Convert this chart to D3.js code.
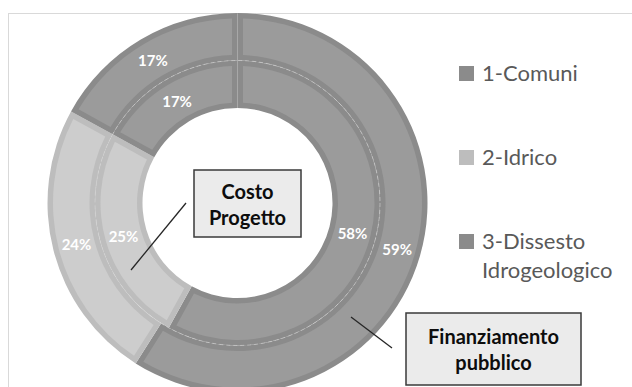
<!DOCTYPE html>
<html>
<head>
<meta charset="utf-8">
<script src="https://cdn.jsdelivr.net/npm/d3@7"></script>
<style>
  html, body { margin: 0; padding: 0; background: #ffffff; }
  svg { display: block; }
</style>
</head>
<body>
<svg id="chart" width="632" height="387"></svg>
<script>
// Shares by category for each ring (percent)
const categories = ["1-Comuni", "2-Idrico", "3-Dissesto Idrogeologico"];
const costoProgetto = [58, 25, 17];          // inner ring
const finanziamentoPubblico = [59, 24, 17];  // outer ring
const ringNames = ["Costo Progetto", "Finanziamento pubblico"];

const W = 632, H = 387;
const cx = 237.5, cy = 203;
const rHole = 95, rMid = 142.5, rOuter = 190;
const inset = 5.5;

const fillColor = d3.scaleOrdinal().domain(categories).range(["#9b9b9b", "#cdcdcd", "#9b9b9b"]);
const edgeColor = d3.scaleOrdinal().domain(categories).range(["#8b8b8b", "#bdbdbd", "#8b8b8b"]);

const svg = d3.select("#chart");
const font = "Lato, 'Open Sans', 'DejaVu Sans', sans-serif";

// chart area frame
svg.append("rect")
  .attr("x", 8.5).attr("y", 13.5)
  .attr("width", W).attr("height", H)
  .attr("fill", "none").attr("stroke", "#d9d9d9").attr("stroke-width", 1);

const pie = d3.pie().sort(null).value(d => d.value).startAngle(0).endAngle(2 * Math.PI);

const rings = [
  { name: ringNames[0], values: costoProgetto, r0: rHole, r1: rMid },
  { name: ringNames[1], values: finanziamentoPubblico, r0: rMid, r1: rOuter }
];

const g = svg.append("g").attr("transform", `translate(${cx},${cy})`);
const segLayer = g.append("g");
const seamLayer = g.append("g");
const labelLayer = g.append("g");

rings.forEach(ring => {
  const slices = pie(ring.values.map((v, i) => ({ cat: categories[i], value: v })));
  const full = d3.arc().innerRadius(ring.r0).outerRadius(ring.r1);
  const inner = d3.arc()
    .innerRadius(ring.r0 + inset).outerRadius(ring.r1 - inset)
    .padRadius(100).padAngle(2 * inset / 100);

  const seg = segLayer.append("g");
  seg.selectAll("path.edge").data(slices).join("path")
    .attr("class", "edge")
    .attr("d", full)
    .attr("fill", d => edgeColor(d.data.cat));
  seg.selectAll("path.body").data(slices).join("path")
    .attr("class", "body")
    .attr("d", inner)
    .attr("fill", d => fillColor(d.data.cat));

  labelLayer.append("g").selectAll("text").data(slices).join("text")
    .attr("x", d => full.centroid(d)[0])
    .attr("y", d => full.centroid(d)[1])
    .attr("text-anchor", "middle")
    .attr("dominant-baseline", "central")
    .attr("font-family", font)
    .attr("font-weight", "bold")
    .attr("font-size", 15)
    .attr("fill", "#ffffff")
    .text(d => d.data.value + "%");
});

// faint dashed seam between the two rings
seamLayer.append("circle")
  .attr("r", rMid)
  .attr("fill", "none")
  .attr("stroke", "#d4d4d4")
  .attr("stroke-opacity", 0.6)
  .attr("stroke-width", 1)
  .attr("stroke-dasharray", "4 3");

// legend
const legendItems = [
  { cat: categories[0], lines: ["1-Comuni"], y: 66 },
  { cat: categories[1], lines: ["2-Idrico"], y: 150 },
  { cat: categories[2], lines: ["3-Dissesto", "Idrogeologico"], y: 234 }
];
const lg = svg.append("g");
legendItems.forEach(it => {
  lg.append("rect")
    .attr("x", 459).attr("y", it.y).attr("width", 15).attr("height", 15)
    .attr("fill", edgeColor(it.cat));
  const t = lg.append("text")
    .attr("x", 482).attr("y", it.y + 15)
    .attr("font-family", font).attr("font-size", 22).attr("fill", "#595959");
  it.lines.forEach((ln, i) => {
    t.append("tspan").attr("x", 482).attr("dy", i === 0 ? 0 : 29).text(ln);
  });
});

// callouts naming each ring
const callouts = [
  { lines: ["Costo", "Progetto"], box: [194, 170, 107, 67], line: [[186, 203], [131, 270]] },
  { lines: ["Finanziamento", "pubblico"], box: [406, 313, 175, 72], line: [[392, 348], [351, 317]] }
];
callouts.forEach(c => {
  svg.append("line")
    .attr("x1", c.line[0][0]).attr("y1", c.line[0][1])
    .attr("x2", c.line[1][0]).attr("y2", c.line[1][1])
    .attr("stroke", "#262626").attr("stroke-width", 1.3);
  svg.append("rect")
    .attr("x", c.box[0]).attr("y", c.box[1])
    .attr("width", c.box[2]).attr("height", c.box[3])
    .attr("fill", "#ebebeb").attr("stroke", "#3a3a3a").attr("stroke-width", 1.5);
  const mx = c.box[0] + c.box[2] / 2;
  const my = c.box[1] + c.box[3] / 2;
  c.lines.forEach((ln, i) => {
    svg.append("text")
      .attr("x", mx).attr("y", my + (i - 0.5) * 26)
      .attr("text-anchor", "middle").attr("dominant-baseline", "central")
      .attr("font-family", font).attr("font-weight", "bold").attr("font-size", 20)
      .attr("fill", "#0d0d0d")
      .text(ln);
  });
});
</script>
</body>
</html>
